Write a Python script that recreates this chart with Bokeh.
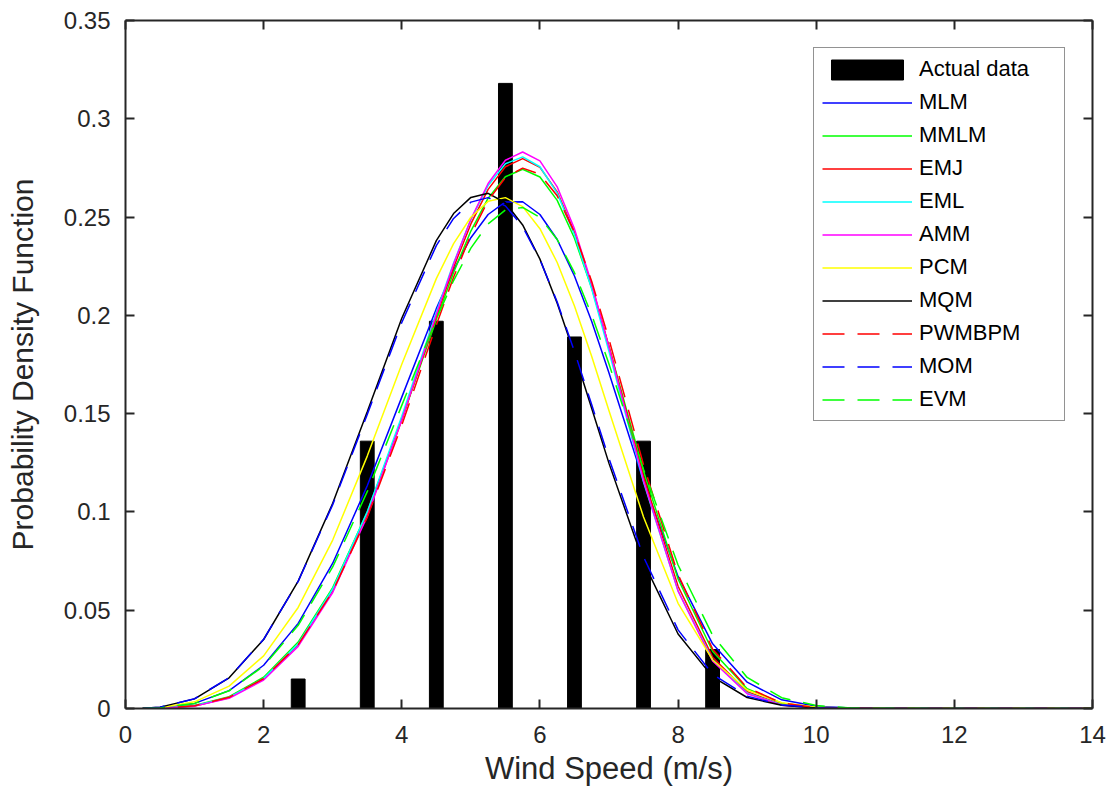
from bokeh.plotting import figure
from bokeh.models import (LinearAxis, FixedTicker, CustomJSTickFormatter, Range1d,
                          Legend, LegendItem)
from bokeh.embed import file_html
from bokeh.resources import INLINE

# ---- data ----
bar_x = [2.5, 3.5, 4.5, 5.5, 6.5, 7.5, 8.5]
bar_h = [0.015, 0.136, 0.197, 0.318, 0.189, 0.136, 0.030]

wind = [0.25, 0.5, 1, 1.5, 2, 2.5, 3, 3.5, 4, 4.5, 4.75, 5, 5.25, 5.5, 5.75,
        6, 6.25, 6.5, 6.75, 7, 7.5, 8, 8.5, 9, 9.5, 10, 10.5, 11, 12, 14]

mlm = [0.0000, 0.0003, 0.0026, 0.0091, 0.0220, 0.0433, 0.0739, 0.1133, 0.1584, 0.2034,
       0.2231, 0.2395, 0.2513, 0.2577, 0.2578, 0.2513, 0.2386, 0.2200, 0.1969, 0.1707,
       0.1156, 0.0672, 0.0329, 0.0134, 0.0044, 0.0011, 0.0002, 0, 0, 0]
mmlm = [0.0000, 0.0001, 0.0015, 0.0060, 0.0159, 0.0338, 0.0615, 0.0999, 0.1471, 0.1979,
        0.2218, 0.2429, 0.2596, 0.2705, 0.2743, 0.2704, 0.2585, 0.2392, 0.2138, 0.1841,
        0.1207, 0.0659, 0.0291, 0.0101, 0.0027, 0.0005, 0.0001, 0, 0, 0]
emj = [0.0000, 0.0001, 0.0013, 0.0055, 0.0150, 0.0324, 0.0599, 0.0986, 0.1468, 0.1994,
       0.2244, 0.2465, 0.2641, 0.2756, 0.2797, 0.2753, 0.2628, 0.2422, 0.2153, 0.1840,
       0.1179, 0.0622, 0.0261, 0.0085, 0.0021, 0.0004, 0.0000, 0, 0, 0]
eml = [0.0000, 0.0001, 0.0014, 0.0056, 0.0152, 0.0329, 0.0608, 0.1000, 0.1487, 0.2016,
       0.2266, 0.2487, 0.2661, 0.2771, 0.2806, 0.2756, 0.2622, 0.2410, 0.2134, 0.1816,
       0.1152, 0.0599, 0.0248, 0.0079, 0.0019, 0.0003, 0.0000, 0, 0, 0]
amm = [0.0000, 0.0001, 0.0012, 0.0052, 0.0145, 0.0316, 0.0590, 0.0978, 0.1468, 0.2005,
       0.2261, 0.2489, 0.2671, 0.2789, 0.2831, 0.2786, 0.2654, 0.2440, 0.2161, 0.1837,
       0.1159, 0.0597, 0.0242, 0.0075, 0.0017, 0.0003, 0.0000, 0, 0, 0]
pcm = [0.0001, 0.0004, 0.0034, 0.0114, 0.0268, 0.0514, 0.0857, 0.1284, 0.1751, 0.2187,
       0.2365, 0.2499, 0.2580, 0.2599, 0.2553, 0.2441, 0.2269, 0.2048, 0.1791, 0.1515,
       0.0974, 0.0535, 0.0247, 0.0094, 0.0029, 0.0007, 0.0001, 0, 0, 0]
mqm = [0.0001, 0.0007, 0.0049, 0.0156, 0.0351, 0.0648, 0.1044, 0.1510, 0.1985, 0.2380,
       0.2518, 0.2600, 0.2621, 0.2573, 0.2460, 0.2286, 0.2062, 0.1803, 0.1526, 0.1247,
       0.0745, 0.0379, 0.0161, 0.0056, 0.0016, 0.0003, 0.0001, 0, 0, 0]
pwmbpm = [0.0000, 0.0001, 0.0014, 0.0057, 0.0152, 0.0325, 0.0596, 0.0973, 0.1442, 0.1951,
          0.2194, 0.2410, 0.2584, 0.2701, 0.2749, 0.2718, 0.2608, 0.2422, 0.2172, 0.1877,
          0.1239, 0.0681, 0.0302, 0.0106, 0.0028, 0.0005, 0.0001, 0, 0, 0]
mom = [0.0001, 0.0007, 0.0050, 0.0157, 0.0352, 0.0647, 0.1037, 0.1496, 0.1964, 0.2355,
       0.2493, 0.2576, 0.2599, 0.2557, 0.2451, 0.2284, 0.2068, 0.1816, 0.1545, 0.1271,
       0.0771, 0.0400, 0.0174, 0.0063, 0.0018, 0.0004, 0.0001, 0, 0, 0]
evm = [0.0000, 0.0003, 0.0026, 0.0090, 0.0216, 0.0423, 0.0720, 0.1103, 0.1542, 0.1982,
       0.2177, 0.2342, 0.2465, 0.2536, 0.2549, 0.2498, 0.2386, 0.2217, 0.2002, 0.1752,
       0.1216, 0.0730, 0.0372, 0.0158, 0.0055, 0.0015, 0.0003, 0.0001, 0, 0]

series_names = ["MLM", "MMLM", "EMJ", "EML", "AMM", "PCM", "MQM", "PWMBPM", "MOM", "EVM"]
series_vals = [mlm, mmlm, emj, eml, amm, pcm, mqm, pwmbpm, mom, evm]
series_colors = ["#0000FF", "#00FF00", "#FF0000", "#00FFFF", "#FF00FF", "#FFFF00",
                 "#000000", "#FF0000", "#0000FF", "#00FF00"]
series_dash = ["solid"] * 7 + ["22 13"] * 3

x_ticks = [0, 2, 4, 6, 8, 10, 12, 14]
y_ticks = [0, 0.05, 0.1, 0.15, 0.2, 0.25, 0.3, 0.35]

FONT = "Liberation Sans"
AX = "#262626"

p = figure(width=1108, height=792, output_backend="svg", toolbar_location=None,
           x_range=Range1d(0, 14), y_range=Range1d(0, 0.35),
           min_border_left=125, min_border_right=16, min_border_top=20,
           min_border_bottom=84, background_fill_color="white",
           border_fill_color="white")
p.outline_line_color = None
p.xgrid.visible = False
p.ygrid.visible = False

renderers = []
bars = p.vbar(x=bar_x, top=bar_h, bottom=0, width=0.2, fill_color="black",
              line_color="black", line_width=1)
renderers.append(("Actual data", bars))
for name, vals, col, dash in zip(series_names, series_vals, series_colors, series_dash):
    r = p.line(wind, vals, line_color=col, line_width=1.5, line_dash=dash)
    renderers.append((name, r))

def style_axis(ax, ticks):
    ax.ticker = FixedTicker(ticks=ticks)
    ax.axis_line_color = AX
    ax.axis_line_width = 2
    ax.major_tick_line_color = AX
    ax.major_tick_line_width = 2
    ax.major_tick_in = 9
    ax.major_tick_out = 0
    ax.minor_tick_line_color = None
    ax.major_label_text_font = FONT
    ax.major_label_text_font_size = "24px"
    ax.major_label_text_color = AX
    ax.axis_label_text_font = FONT
    ax.axis_label_text_font_size = "30px"
    ax.axis_label_text_font_style = "normal"
    ax.axis_label_text_color = AX

xa = p.xaxis[0]
style_axis(xa, x_ticks)
xa.axis_label = "Wind Speed (m/s)"
xa.axis_label_text_font_size = "31px"
xa.major_label_standoff = 17
xa.axis_label_standoff = 5

ya = p.yaxis[0]
style_axis(ya, y_ticks)
ya.formatter = CustomJSTickFormatter(
    code="return tick.toFixed(2).replace(/0+$/, '').replace(/\\.$/, '');")
ya.axis_label = "Probability Density Function"
ya.major_label_standoff = 15
ya.axis_label_standoff = 22

top = LinearAxis()
style_axis(top, x_ticks)
top.formatter = CustomJSTickFormatter(code="return '';")
top.major_label_standoff = 0
p.add_layout(top, "above")

right = LinearAxis()
style_axis(right, y_ticks)
right.formatter = CustomJSTickFormatter(code="return '';")
right.major_label_standoff = 0
p.add_layout(right, "right")

legend = Legend(items=[LegendItem(label=n, renderers=[r]) for n, r in renderers],
                location="top_right")
legend.margin = 27
legend.padding = 8
legend.spacing = 7
legend.glyph_width = 90
legend.glyph_height = 25
legend.label_height = 25
legend.label_width = 137
legend.label_standoff = 7
legend.label_text_font = FONT
legend.label_text_font_size = "22px"
legend.label_text_color = "#000000"
legend.border_line_color = AX
legend.border_line_width = 1
legend.background_fill_color = "white"
legend.background_fill_alpha = 1
p.add_layout(legend)

open("out.html", "w").write(file_html(p, INLINE))
